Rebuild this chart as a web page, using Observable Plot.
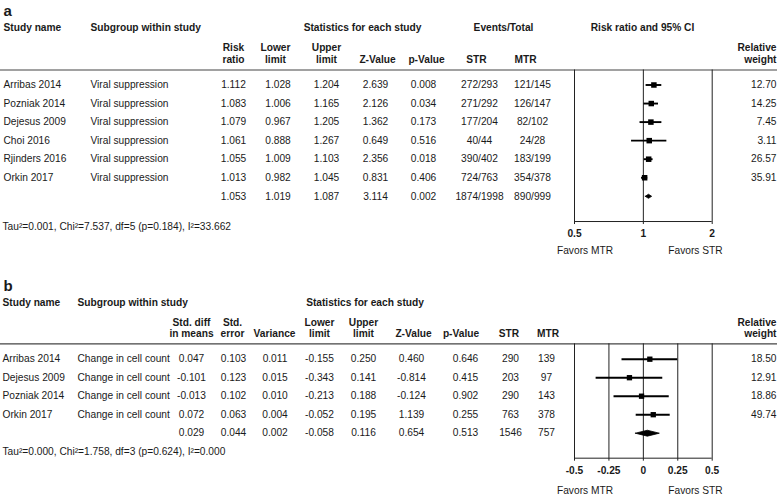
<!DOCTYPE html>
<html><head><meta charset="utf-8">
<script src="https://cdn.jsdelivr.net/npm/d3@7"></script>
<script src="https://cdn.jsdelivr.net/npm/@observablehq/plot@0.6"></script>
<style>
body{margin:0;background:#fff;}
#chart svg{display:block;}
</style></head><body><div id="chart"></div>
<script>
// ---------- Panel a data ----------
const studiesA = ["Arribas 2014","Pozniak 2014","Dejesus 2009","Choi 2016","Rjinders 2016","Orkin 2017"];
const subgroupA = "Viral suppression";
const riskRatioA = [1.112,1.083,1.079,1.061,1.055,1.013];
const lowerA = [1.028,1.006,0.967,0.888,1.009,0.982];
const upperA = [1.204,1.165,1.205,1.267,1.103,1.045];
const zA = [2.639,2.126,1.362,0.649,2.356,0.831];
const pA = [0.008,0.034,0.173,0.516,0.018,0.406];
const strA = ["272/293","271/292","177/204","40/44","390/402","724/763"];
const mtrA = ["121/145","126/147","82/102","24/28","183/199","354/378"];
const weightA = [12.70,14.25,7.45,3.11,26.57,35.91];
const summaryA = [1.053,1.019,1.087,3.114,0.002]; // est, lower, upper, z, p
const summaryEventsA = ["1874/1998","890/999"];
const heteroA = "Tau\u00B2=0.001, Chi\u00B2=7.537, df=5 (p=0.184), I\u00B2=33.662";
const ticksA = [0.5,1,2];

// ---------- Panel b data ----------
const studiesB = ["Arribas 2014","Dejesus 2009","Pozniak 2014","Orkin 2017"];
const subgroupB = "Change in cell count";
const smdB = [0.047,-0.101,-0.013,0.072];
const seB = [0.103,0.123,0.102,0.063];
const varB = [0.011,0.015,0.010,0.004];
const lowerB = [-0.155,-0.343,-0.213,-0.052];
const upperB = [0.250,0.141,0.188,0.195];
const zB = [0.460,-0.814,-0.124,1.139];
const pB = [0.646,0.415,0.902,0.255];
const strB = [290,203,290,763];
const mtrB = [139,97,143,378];
const weightB = [18.50,12.91,18.86,49.74];
const summaryB = [0.029,0.044,0.002,-0.058,0.116,0.654,0.513]; // est, se, var, lower, upper, z, p
const summaryNB = [1546,757];
const heteroB = "Tau\u00B2=0.000, Chi\u00B2=1.758, df=3 (p=0.624), I\u00B2=0.000";
const ticksB = [-0.5,-0.25,0,0.25,0.5];

// ---------- helpers ----------
const FONT = "'Liberation Sans', Arial, Helvetica, sans-serif";
const FS = 10.2;
const INK = "#1a1a1a";
const f3 = v => v.toFixed(3);
const f2 = v => v.toFixed(2);

function col(data, text, x, anchor, extra = {}) {
  return Plot.text(data, {y: "i", text, frameAnchor: "left", dx: x, textAnchor: anchor,
    lineAnchor: "middle", fontSize: FS, fill: INK, ...extra});
}
function label(t, x, y, anchor = "middle", extra = {}) {
  return Plot.text([t], {text: d => d, frameAnchor: "top-left", dx: x, dy: y, textAnchor: anchor,
    lineAnchor: "middle", fontSize: FS, fontWeight: "bold", fill: INK, lineHeight: 1.13, ...extra});
}

// ---------- Panel a ----------
const rowsA = studiesA.map((s, i) => ({i, study: s, sub: subgroupA, est: riskRatioA[i], lo: lowerA[i], hi: upperA[i],
  z: zA[i], p: pA[i], str: strA[i], mtr: mtrA[i], w: weightA[i]}));
const sumA = {i: studiesA.length, est: summaryA[0], lo: summaryA[1], hi: summaryA[2], z: summaryA[3], p: summaryA[4],
  str: summaryEventsA[0], mtr: summaryEventsA[1]};
const tableA = [...rowsA, sumA];
const topA = -0.81, botA = 7.36, dhA = 0.11;
const diamondA = [
  {x: sumA.lo, y: sumA.i}, {x: sumA.est, y: sumA.i - dhA}, {x: sumA.hi, y: sumA.i},
  {x: sumA.est, y: sumA.i + dhA}, {x: sumA.lo, y: sumA.i}
];

const plotA = Plot.plot({
  width: 779, height: 262,
  marginTop: 0, marginBottom: 0, marginLeft: 0, marginRight: 2,
  style: {fontFamily: FONT, fontSize: FS + "px", background: "#fff", color: INK},
  x: {type: "log", domain: [0.5, 2], range: [574, 711.7], axis: null},
  y: {type: "linear", domain: [0, 6], range: [84.5, 84.5 + 6 * 18.55], axis: null},
  marks: [
    Plot.ruleY([topA], {stroke: "#444", strokeWidth: 1.1}),
    Plot.ruleX(ticksA, {y1: topA, y2: botA, stroke: "#222", strokeWidth: 1, insetBottom: -3}),
    Plot.ruleY([botA], {x1: ticksA[0], x2: ticksA[ticksA.length - 1], stroke: "#222", strokeWidth: 1}),
    Plot.ruleY(rowsA, {y: "i", x1: "lo", x2: "hi", stroke: "#000", strokeWidth: 1.9}),
    Plot.dot(rowsA, {x: "est", y: "i", symbol: "square", r: 3.1, fill: "#000", stroke: null}),
    Plot.line(diamondA, {x: "x", y: "y", fill: "#000", stroke: "#000", strokeWidth: 0.8}),
    Plot.text(ticksA, {x: d => d, y: () => botA, dy: 12, text: d => String(d), lineAnchor: "middle", fontWeight: "bold", fontSize: FS, fill: INK}),
    // table columns
    col(rowsA, "study", 3, "start"),
    col(rowsA, "sub", 90, "start"),
    col(tableA, d => f3(d.est), 233, "middle"),
    col(tableA, d => f3(d.lo), 277.5, "middle"),
    col(tableA, d => f3(d.hi), 326, "middle"),
    col(tableA, d => f3(d.z), 375, "middle"),
    col(tableA, d => f3(d.p), 423, "middle"),
    col(tableA, "str", 479, "middle"),
    col(tableA, "mtr", 532, "middle"),
    col(rowsA, d => f2(d.w), 776, "end"),
    // headers
    label("a", 3, 10, "start", {fontSize: 15}),
    label("Study name", 3, 27, "start"),
    label("Subgroup within study", 90, 27, "start"),
    label("Statistics for each study", 362, 27),
    label("Events/Total", 503, 27),
    label("Risk ratio and 95% CI", 642, 27),
    label("Risk\nratio", 233, 53),
    label("Lower\nlimit", 275, 53),
    label("Upper\nlimit", 326, 53),
    label("Z-Value", 377, 59),
    label("p-Value", 426, 59),
    label("STR", 476, 59),
    label("MTR", 525, 59),
    label("Relative\nweight", 776, 53, "end"),
    label(heteroA, 2, 225.7, "start", {fontWeight: "normal"}),
    label("Favors MTR", 584.5, 250, "middle", {fontWeight: "normal"}),
    label("Favors STR", 695, 250, "middle", {fontWeight: "normal"})
  ]
});

// ---------- Panel b ----------
const rowsB = studiesB.map((s, i) => ({i, study: s, sub: subgroupB, est: smdB[i], se: seB[i], v: varB[i],
  lo: lowerB[i], hi: upperB[i], z: zB[i], p: pB[i], str: strB[i], mtr: mtrB[i], w: weightB[i]}));
const sumB = {i: studiesB.length, est: summaryB[0], se: summaryB[1], v: summaryB[2], lo: summaryB[3], hi: summaryB[4],
  z: summaryB[5], p: summaryB[6], str: summaryNB[0], mtr: summaryNB[1]};
const tableB = [...rowsB, sumB];
const topB = -0.83, botB = 5.35, dhB = 0.16;
const diamondB = [
  {x: sumB.lo, y: sumB.i}, {x: sumB.est, y: sumB.i - dhB}, {x: sumB.hi, y: sumB.i},
  {x: sumB.est, y: sumB.i + dhB}, {x: sumB.lo, y: sumB.i}
];

const plotB = Plot.plot({
  width: 779, height: 234,
  marginTop: 0, marginBottom: 0, marginLeft: 0, marginRight: 2,
  style: {fontFamily: FONT, fontSize: FS + "px", background: "#fff", color: INK},
  x: {type: "linear", domain: [-0.5, 0.5], range: [574, 711.7], axis: null},
  y: {type: "linear", domain: [0, 4], range: [96.7, 96.7 + 4 * 18.5], axis: null},
  marks: [
    Plot.ruleY([topB], {stroke: "#444", strokeWidth: 1.1}),
    Plot.ruleX(ticksB, {y1: topB, y2: botB, stroke: "#222", strokeWidth: 1, insetBottom: -3}),
    Plot.ruleY([botB], {x1: ticksB[0], x2: ticksB[ticksB.length - 1], stroke: "#222", strokeWidth: 1}),
    Plot.ruleY(rowsB, {y: "i", x1: "lo", x2: "hi", stroke: "#000", strokeWidth: 1.9}),
    Plot.dot(rowsB, {x: "est", y: "i", symbol: "square", r: 3.0, fill: "#000", stroke: null}),
    Plot.line(diamondB, {x: "x", y: "y", fill: "#000", stroke: "#000", strokeWidth: 0.8}),
    Plot.text(ticksB, {x: d => d, y: () => botB, dy: 13, text: d => String(d), lineAnchor: "middle", fontWeight: "bold", fontSize: FS, fill: INK}),
    // table columns
    col(rowsB, "study", 2, "start"),
    col(rowsB, "sub", 77, "start"),
    col(tableB, d => f3(d.est), 191, "middle"),
    col(tableB, d => f3(d.se), 233, "middle"),
    col(tableB, d => f3(d.v), 274.5, "middle"),
    col(tableB, d => f3(d.lo), 319, "middle"),
    col(tableB, d => f3(d.hi), 363, "middle"),
    col(tableB, d => f3(d.z), 411, "middle"),
    col(tableB, d => f3(d.p), 465, "middle"),
    col(tableB, d => String(d.str), 510, "middle"),
    col(tableB, d => String(d.mtr), 546, "middle"),
    col(rowsB, d => f2(d.w), 776, "end"),
    // headers
    label("b", 3, 22.8, "start", {fontSize: 15}),
    label("Study name", 2, 40, "start"),
    label("Subgroup within study", 77, 40, "start"),
    label("Statistics for each study", 364.5, 40),
    label("Std. diff\nin means", 191, 65.5),
    label("Std.\nerror", 232, 65.5),
    label("Variance", 274, 71),
    label("Lower\nlimit", 319, 65.5),
    label("Upper\nlimit", 363, 65.5),
    label("Z-Value", 413, 71),
    label("p-Value", 460.5, 71),
    label("STR", 508.5, 71),
    label("MTR", 547.5, 71),
    label("Relative\nweight", 776, 65.5, "end"),
    label(heteroB, 2, 188.7, "start", {fontWeight: "normal"}),
    label("Favors MTR", 584.5, 228, "middle", {fontWeight: "normal"}),
    label("Favors STR", 695, 228, "middle", {fontWeight: "normal"})
  ]
});

const root = document.getElementById("chart");
root.appendChild(plotA);
root.appendChild(plotB);
</script>
</body></html>
